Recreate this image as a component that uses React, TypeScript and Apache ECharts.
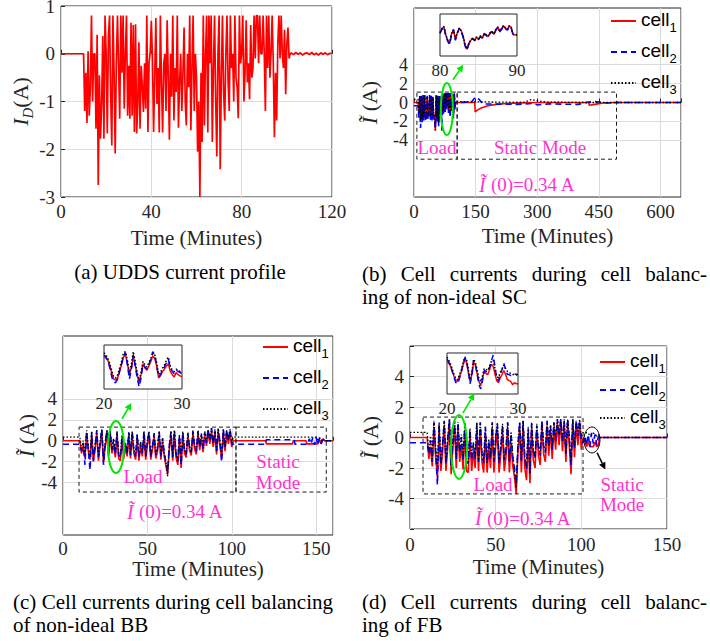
import React, { useEffect, useRef } from 'react';
import * as echarts from 'echarts';

const W = 710;
const H = 641;
const SERIF = '"Liberation Serif", "Times New Roman", serif';
const SANS = '"Liberation Sans", Arial, sans-serif';
const AX = '#262626';
const GRIDC = '#dcdcdc';
const PINK = '#ff33cc';
const GREEN = '#00e600';

// ---------- (a) UDDS current profile ----------
const uddsStart = 10;
const uddsStep = 0.5;
const uddsValues = [
  0, -1.2, -0.4, -1.45, 0.05, -1.3, -0.7, 0.8, -1.0, 0,
  0, -1.57, 0.4, -2.75, -0.45, -1.78, -1.08, 0.37, -1.78, 0.8,
  0, -1.67, 0.37, 0.8, -0.9, -1.92, 0.8, -0.4, -2.09, -0.2,
  0.8, -0.25, -1.36, 0.8, -0.4, 0.8, -1.15, 0, 0.8, -1.3,
  -0.25, -1.36, 0.65, -1.3, 0.6, -1.64, 0.62, -1.67, -1.08, 0.24,
  -1.57, -0.25, -0.67, -1.22, -0.2, -1.15, 0.8, -1.64, -0.18, 0.03,
  0.69, -0.1, -1.64, -0.5, 0.75, -1.05, -0.3, -1.65, 0.8, -0.6,
  -1.65, -0.2, 0.0, -1.2, 0.7, -0.5, -1.8, 0.0, -0.9, 0.8,
  -1.4, -0.3, -0.8, 0.8, -1.55, -0.6, 0.0, -1.2, -0.4, 0.55,
  -1.0, -1.5, 0.0, -0.7, 0.8, -1.6, -0.3, 0.8, -1.2, 0,
  -0.5, -2.05, -1.0, -3.0, -0.4, -1.85, 0.8, -1.5, 0.0, 0.8,
  -1.65, 0.8, -0.2, 0.8, -1.85, -0.3, 0.8, -1.0, -2.15, 0.0,
  0.8, -2.42, -0.5, 0.8, -0.8, -1.4, 0.0, 0.8, -0.6, -1.2,
  0.8, -0.3, 0.0, -1.0, 0.8, -0.5, -0.7, -1.35, 0.8, -0.2,
  0.0, 0.8, -1.0, -0.4, 0.7, -0.6, -0.2, -0.95, 0.6, -0.5,
  -0.3, 0.8, -0.1, 0.8, 0.8, -0.2, 0.8, 0.0, 0.0, 0.8,
  0.0, -1.2, 0.8, -0.3, 0.8, -0.5, 0.0, 0.8, -0.2, -1.75,
  -0.4, -1.4, 0.2, 0.8, -0.1, 0.8, 0.0, -0.3, 0.5, -0.85,
  0.2, 0.55, -0.1, 0,
];
const uddsTailStart = 102;
const uddsTailStep = 1;
const uddsTail = [0.02, -0.02, 0.03, -0.01, 0.02, -0.03, 0.01, 0.02, -0.02, 0.03, -0.02, 0.01, -0.03, 0.02, -0.01, 0.02, -0.02, 0.01, 0];

// initial cell current offsets (cell1, cell2, cell3)
const initialOffsets = [0, -0.34, 0.34];

// ---------- (b) non-ideal SC ----------
const scStart = 10;
const scStep = 2;
const scCell1 = [
  0, -1.3, 0.6, -2.0, 0.5, -1.8, 0.7, -1.6, 0.6, -1.4,
  -1.7, 0.5, -1.5, -1.2, 0.6, -1.6, 0.5, -1.7, 0.4, -1.5,
  -1.3, -3.0, 0.6, -1.8, 0.5, -2.2, 0.6, -1.2, 0.5, -1.0,
  0.7, -0.9, 0.8, -0.7, 0.9, -0.5, 0.8, -0.8, 0.9, -1.3,
  0.8, -0.6, 0.9, -1.4, 0.8, -0.5,
];
const scCell2 = [
  -0.34, -1.6, 0.8, -2.7, 0.7, -2.1, 0.9, -1.9, 0.8, -1.7,
  -2.0, 0.7, -1.8, -1.5, 0.8, -1.9, 0.7, -2.0, 0.6, -1.8,
  -1.6, -2.8, 0.8, -2.1, 0.7, -2.5, 0.8, -1.5, 0.7, -3.0,
  0.9, -1.2, 1.0, -1.0, 1.0, -0.8, 1.0, -1.1, 1.0, -1.6,
  1.0, -0.9, 1.0, -1.7, 1.0, -0.8,
];
const scCell3 = [
  0.34, -1.2, 0.7, -1.9, 0.6, -1.7, 0.8, -1.5, 0.7, -1.3,
  -1.6, 0.6, -1.4, -1.1, 0.7, -1.5, 0.6, -1.6, 0.5, -1.4,
  -1.2, -2.9, 0.7, -1.7, 0.6, -2.1, 0.7, -1.1, 0.6, -0.9,
  0.8, -0.8, 0.9, -0.6, 1.0, -0.4, 0.9, -0.7, 1.0, -1.2,
  0.9, -0.5, 1.0, -1.3, 0.9, -0.4,
];
const scTail1 = [[101, 0], [148, 0], [149, -1.0], [155, -0.78], [165, -0.55], [180, -0.35], [200, -0.2], [225, -0.1], [260, -0.04], [300, 0], [425, 0], [427, -0.3], [440, -0.2], [460, -0.06], [490, 0], [650, 0]];
const scTail2 = [[101, 0], [140, 0.05], [150, 0.6], [158, 0.35], [168, -0.15], [250, -0.2], [290, -0.1], [300, -0.25], [330, -0.15], [400, -0.2], [425, 0.05], [440, 0.1], [470, -0.05], [500, 0], [650, 0]];
const scTail3 = [[101, 0.1], [200, 0.05], [270, 0.05], [285, 0.3], [300, 0.2], [320, 0.05], [400, 0], [650, 0]];
// inset (80-90 min)
const scInsetStart = 80;
const insetStep = 0.25;
const scInset1 = [
  -0.3, 0.1, 0.3, -0.5, -1.0, -1.3, -0.4, 0.0, -0.9, -0.3,
  0.15, -0.1, -0.6, -1.45, -1.85, -1.3, -1.0, -0.8, -1.0, -0.7,
  -0.9, -0.6, -0.8, -0.35, -0.5, -0.65, -0.3, -0.15, -0.45, 0.0,
  0.25, -0.15, 0.1, 0.38, 0.15, 0.0, 0.38, 0.2, -0.45, -0.5,
  -0.48,
];
const scInset2 = [
  -0.35, 0.05, 0.3, -0.6, -1.1, -1.4, -0.45, 0.0, -1.0, -0.35,
  0.1, -0.15, -0.7, -1.55, -1.95, -1.35, -1.05, -0.85, -1.05, -0.75,
  -0.95, -0.65, -0.85, -0.4, -0.55, -0.7, -0.35, -0.2, -0.5, -0.05,
  0.2, -0.2, 0.05, 0.33, 0.1, -0.05, 0.33, 0.15, -0.5, -0.55,
  -0.5,
];
const scInset3 = [
  -0.28, 0.12, 0.32, -0.48, -0.98, -1.28, -0.38, 0.02, -0.88, -0.28,
  0.17, -0.08, -0.58, -1.43, -1.83, -1.28, -0.98, -0.78, -0.98, -0.68,
  -0.88, -0.58, -0.78, -0.33, -0.48, -0.63, -0.28, -0.13, -0.43, 0.02,
  0.27, -0.13, 0.12, 0.4, 0.17, 0.02, 0.4, 0.22, -0.43, -0.48,
  -0.46,
];

// ---------- (c) non-ideal BB ----------
const loadStart = 10;
const loadStep = 1;
const bbCell1 = [
  0, -1.2, -0.5, -1.6, 0.6, -1.0, -1.8, 0.5, -2.0, -0.8,
  0.7, -1.9, -0.4, 0.8, -2.1, -0.6, 0.7, -1.5, 0.6, -1.2,
  -0.3, -1.6, 0.5, -1.7, -1.9, 0.1, -1.7, -0.6, -1.5, 0.4,
  -1.7, 0.5, -1.2, -1.8, 0.2, -1.9, -0.5, -1.5, 0.5, -1.8,
  -0.4, 0.5, -1.8, -0.8, 0.3, -1.7, -1.0, 0.5, -1.8, -0.2,
  -1.5, -2.4, -3.2, -0.8, 0.5, -1.9, 0.6, -1.6, -2.3, 0.2,
  -2.6, 0.5, -1.2, -1.6, 0.4, -0.9, -1.4, 0.6, -0.8, -1.3,
  0.6, -0.9, 0.3, -1.1, 0.5, -0.5, 0.8, -0.3, 0.9, -0.6,
  0.7, -1.3, 0.8, -0.4, -1.7, 0.8, -1.0, 0.7, -0.3, 0.8,
  -0.6, 0,
];
const bbCell2 = [
  -0.34, -1.0, -0.2, -2.3, 0.9, -0.8, -2.8, 0.8, -1.9, -0.6,
  1.0, -1.6, -0.2, 1.1, -2.3, -0.3, 1.0, -1.2, 0.9, -0.9,
  0.1, -1.3, 0.8, -1.4, -1.6, 0.5, -1.4, -0.3, -1.2, 0.8,
  -1.4, 0.9, -0.9, -1.5, 0.6, -1.6, -0.2, -1.2, 0.9, -1.5,
  -0.1, 0.8, -1.5, -0.5, 0.7, -1.4, -0.7, 0.9, -1.5, 0.2,
  -1.2, -2.1, -2.9, -0.5, 0.9, -1.6, 1.0, -1.3, -2.0, 0.5,
  -2.3, 0.8, -0.9, -1.3, 0.7, -0.6, -1.1, 0.9, -0.5, -1.0,
  0.9, -0.6, 0.6, -0.8, 0.8, -0.2, 1.1, 0.0, 1.2, -0.3,
  1.0, -1.0, 1.1, -0.1, -2.0, 1.1, -0.7, 1.0, 0.0, 1.1,
  -0.3, -0.34,
];
const bbCell3 = [
  0.34, -0.9, 0.0, -1.3, 1.0, -0.6, -1.5, 0.9, -1.6, -0.4,
  1.0, -1.5, -0.1, 1.1, -1.7, -0.2, 1.0, -1.1, 0.9, -0.8,
  0.2, -1.2, 0.9, -1.3, -1.5, 0.5, -1.3, -0.2, -1.1, 0.8,
  -1.3, 0.9, -0.8, -1.4, 0.6, -1.5, -0.1, -1.1, 0.9, -1.4,
  0.0, 0.9, -1.4, -0.4, 0.7, -1.3, -0.6, 0.9, -1.4, 0.3,
  -1.1, -2.0, -3.4, -0.4, 0.9, -1.5, 1.0, -1.2, -1.9, 0.6,
  -2.2, 0.9, -0.8, -1.2, 0.8, -0.5, -1.0, 1.0, -0.4, -0.9,
  1.0, -0.5, 0.7, -0.7, 0.9, -0.1, 1.1, 0.1, 1.2, -0.2,
  1.1, -0.9, 1.2, 0.0, -1.5, 1.1, -0.6, 1.0, 0.1, 1.1,
  -0.2, 0.34,
];
const bbTail1 = [[101.5, 0], [120, 0], [120.5, -0.3], [136, -0.3], [136.5, 0], [144, 0], [144.5, -0.3], [151, -0.3], [152, 0.1], [153, -0.3], [154, 0.2], [155, 0], [160, 0]];
const bbTail2 = [[101.5, -0.34], [120, -0.34], [120.5, 0.1], [137, 0.1], [137.5, -0.34], [145, -0.34], [146, 0.2], [147, -0.3], [148, 0.3], [149, -0.4], [150, 0.3], [151, -0.4], [152, 0.3], [153, -0.3], [154, 0.2], [155, 0], [160, 0]];
const bbTail3 = [[101.5, 0.34], [150, 0.34], [151, 0.1], [152, 0.3], [153, 0.0], [154, 0.2], [155, 0], [160, 0]];
const bbInsetStart = 20;
const bbInset1 = [
  0.5, 0.3, 0.1, -0.4, -1.1, -1.6, -1.7, -1.5, -0.9, -0.3,
  0.4, 0.6, -0.2, -1.2, -0.6, 0.5, -0.3, -1.2, -1.9, -1.2,
  -0.2, -0.6, -0.8, -0.4, 0.0, 0.5, 0.3, -0.4, -1.5, -1.3,
  -0.9, -0.7, -0.4, -0.2, -0.9, -1.2, -1.4, -1.0, -1.2, -1.3,
  -1.4,
];
const bbInset2 = [
  0.6, 0.4, 0.1, -0.6, -1.4, -1.9, -1.9, -1.6, -0.9, -0.2,
  0.5, 0.8, -0.3, -1.6, -0.8, 0.6, -0.4, -1.5, -2.3, -1.5,
  -0.3, -0.5, -0.7, -0.3, 0.2, 0.9, 0.6, -0.3, -1.4, -1.2,
  -0.7, -0.5, -0.1, 0.2, -0.6, -0.9, -1.1, -0.8, -0.9, -1.0,
  -1.1,
];
const bbInset3 = [
  0.8, 0.6, 0.3, -0.2, -0.9, -1.4, -1.5, -1.2, -0.6, 0.0,
  0.8, 0.9, 0.1, -1.0, -0.3, 0.9, 0.0, -1.0, -1.7, -1.0,
  0.0, -0.3, -0.5, -0.1, 0.3, 0.7, 0.6, -0.1, -1.2, -1.0,
  -0.6, -0.3, 0.1, 0.4, -0.4, -0.8, -0.9, -0.7, -0.8, -0.9,
  -1.0,
];

// ---------- (d) FB ----------
const fbCell1 = [
  0, -1.4, -0.6, -1.9, 0.7, -1.3, -2.6, 0.5, -2.2, -1.0,
  0.8, -2.2, -0.6, 0.9, -2.4, -0.8, 0.8, -2.0, 0.6, -1.6,
  -0.5, -2.1, 0.5, -2.2, -2.3, 0.0, -2.2, -0.9, -2.0, 0.4,
  -2.2, 0.5, -1.6, -2.3, 0.2, -2.3, -0.7, -2.0, 0.6, -2.3,
  -0.6, 0.5, -2.3, -1.1, 0.3, -2.2, -1.3, 0.6, -2.3, -0.4,
  -1.9, -2.6, -3.7, -1.0, 0.6, -2.3, 0.7, -2.0, -2.8, 0.2,
  -3.0, 0.6, -1.5, -2.0, 0.5, -1.2, -1.8, 0.8, -1.1, -1.6,
  0.8, -1.2, 0.5, -1.4, 0.7, -0.8, 1.0, -0.5, 1.1, -0.9,
  0.9, -1.6, 1.0, -0.6, -2.4, 1.0, -1.3, 0.9, -0.5, 1.0,
  -0.8, 0,
];
const fbCell2 = [
  -0.34, -1.1, -0.2, -1.6, 1.0, -1.0, -3.1, 0.9, -1.8, -0.5,
  1.1, -1.7, -0.1, 1.2, -1.9, -0.3, 1.1, -1.4, 1.0, -1.0,
  0.0, -1.5, 0.9, -1.6, -1.7, 0.5, -1.5, -0.4, -1.4, 0.9,
  -1.6, 1.0, -1.1, -1.7, 0.7, -1.6, -0.2, -1.4, 1.0, -1.6,
  -0.1, 0.9, -1.7, -0.6, 0.8, -1.5, -0.8, 1.0, -1.6, 0.2,
  -1.3, -2.0, -3.0, -0.5, 1.0, -1.6, 1.1, -1.4, -2.1, 0.6,
  -2.3, 0.9, -0.9, -1.4, 0.8, -0.6, -1.2, 1.1, -0.6, -1.0,
  1.1, -0.6, 0.8, -0.8, 1.0, -0.2, 1.2, 0.1, 1.2, -0.3,
  1.1, -1.1, 1.2, 0.0, -1.8, 1.2, -0.7, 1.1, 0.1, 1.1,
  -0.3, -0.34,
];
const fbCell3 = [
  0.34, -0.9, 0.1, -1.4, 1.1, -0.7, -1.9, 1.0, -1.7, -0.3,
  1.1, -1.6, 0.0, 1.2, -1.8, -0.2, 1.1, -1.3, 1.0, -0.9,
  0.2, -1.4, 1.0, -1.5, -1.6, 0.6, -1.4, -0.3, -1.3, 1.0,
  -1.5, 1.0, -1.0, -1.6, 0.7, -1.7, -0.1, -1.3, 1.0, -1.5,
  0.0, 1.0, -1.6, -0.5, 0.9, -1.4, -0.7, 1.0, -1.5, 0.4,
  -1.2, -2.2, -3.3, -0.4, 1.0, -1.5, 1.1, -1.3, -2.0, 0.7,
  -2.4, 1.0, -0.8, -1.3, 0.9, -0.5, -1.1, 1.1, -0.5, -0.9,
  1.1, -0.5, 0.8, -0.7, 1.0, -0.1, 1.2, 0.2, 1.2, -0.2,
  1.2, -1.0, 1.2, 0.1, -1.6, 1.2, -0.6, 1.1, 0.2, 1.2,
  -0.1, 0.34,
];
const fbTail1 = [[102, -0.2], [103, -0.6], [104, -0.3], [105, -0.6], [107, -0.6], [108, -0.3], [109, -0.6], [110, -0.5], [110.5, 0], [150, 0]];
const fbTail2 = [[102, 0.1], [103, -0.5], [104, 0.2], [105, -0.6], [106, 0.3], [107, -0.4], [108, 0.2], [109, -0.5], [110, 0.1], [111, 0], [150, 0]];
const fbTail3 = [[101.5, 0.34], [104, 0.3], [105, 0.1], [107, 0.3], [109, 0.1], [110, 0.2], [111, 0], [150, 0]];
const fbInsetStart = 20;
const fbInset1 = [
  0.7, 0.5, 0.2, -0.3, -0.8, -1.2, -1.3, -0.8, -0.4, 0.3,
  0.8, 0.6, -0.4, -1.3, -0.6, 0.6, 0.3, -0.5, -1.3, -1.7,
  -1.0, -0.3, -0.5, -0.6, -0.1, 0.4, 0.2, -0.5, -1.2, -1.4,
  -0.9, -0.6, -0.2, -0.6, -1.1, -1.2, -1.3, -1.6, -1.4, -1.5,
  -1.5,
];
const fbInset2 = [
  0.9, 0.6, 0.3, -0.3, -0.9, -1.4, -1.5, -1.0, -0.4, 0.4,
  1.0, 0.8, -0.3, -1.5, -0.7, 0.8, 0.4, -0.6, -1.6, -2.0,
  -1.2, -0.2, -0.3, -0.4, 0.1, 0.7, 1.3, 0.2, -1.0, -1.2,
  -0.6, -0.1, 0.5, -0.1, -0.6, -0.6, -0.7, -0.6, -0.5, -0.6,
  -0.6,
];
const fbInset3 = [
  1.1, 0.8, 0.4, -0.1, -0.6, -1.0, -1.1, -0.6, -0.2, 0.5,
  1.1, 0.9, -0.1, -1.1, -0.4, 0.9, 0.6, -0.2, -1.0, -1.3,
  -0.7, 0.0, -0.1, -0.2, 0.2, 0.7, 0.8, 0.0, -0.8, -0.9,
  -0.4, -0.1, 0.3, 0.0, -0.3, -0.4, -0.5, -0.6, -0.6, -0.6,
  -0.7,
];

// labelled y range (grid lines drawn only there) in panels (b) and (c)
const labelledYMin = -4;
const labelledYMax = 4;
const labelledYStep = 2;
const cellNames = ['cell1', 'cell2', 'cell3'];

// ---------- helpers ----------
const sampled = (start: number, step: number, vals: number[]) => vals.map((v, i) => [start + i * step, v]);
const cellData = (k: number, start: number, step: number, vals: number[], tail: number[][]) => [
  [0, initialOffsets[k]],
  ...sampled(start, step, vals),
  ...tail,
];

const lineStyles = [
  { color: '#ff0000', width: 1.6, type: 'solid' as any },
  { color: '#0000ff', width: 1.6, type: [6, 4] as any },
  { color: '#000000', width: 1.3, type: [1.5, 2] as any },
];

const gridBoxes = [
  { left: 61, top: 6, width: 271, height: 191 },
  { left: 414, top: 8, width: 267, height: 189 },
  { left: 63, top: 336, width: 270, height: 199 },
  { left: 410, top: 346, width: 257, height: 183 },
  { left: 440, top: 14, width: 77, height: 42 },
  { left: 104, top: 345, width: 78, height: 44 },
  { left: 447, top: 353, width: 71, height: 41 },
];
const yRanges = [[-3, 1], [-10, 10], [-9, 10], [-6, 6]];

// a helper grid covering only the labelled y range of a panel, to carry its grid lines
function subGrid(panel: number) {
  const b = gridBoxes[panel];
  const [lo, hi] = yRanges[panel];
  const pxPerUnit = b.height / (hi - lo);
  return {
    left: b.left, width: b.width,
    top: b.top + (hi - labelledYMax) * pxPerUnit,
    height: (labelledYMax - labelledYMin) * pxPerUnit,
    show: false, containLabel: false, outerBoundsMode: 'none',
  };
}

function mainX(g: number, min: number, max: number, interval: number, margin: number, nameGap: number) {
  return {
    type: 'value', gridIndex: g, min, max, interval,
    axisLine: { show: false },
    axisTick: { show: true, inside: true, length: 4, lineStyle: { color: AX } },
    axisLabel: {
      color: AX, fontFamily: SERIF, fontSize: 19, margin,
      formatter: (v: number) => (Math.abs(v / interval - Math.round(v / interval)) < 1e-6 ? String(v) : ''),
    },
    splitLine: { show: true, lineStyle: { color: GRIDC, width: 1 } },
    name: 'Time (Minutes)', nameLocation: 'middle', nameGap,
    nameTextStyle: { color: AX, fontFamily: SERIF, fontSize: 21 },
  };
}

function yName(kind: 'a' | 'b') {
  if (kind === 'a') {
    return {
      name: '{i|I}{s|D}{r|(A)}',
      nameTextStyle: {
        rich: {
          i: { fontFamily: SERIF, fontStyle: 'italic', fontSize: 22, color: AX, lineHeight: 24, verticalAlign: 'top' },
          s: { fontFamily: SERIF, fontStyle: 'italic', fontSize: 15, color: AX, lineHeight: 16, verticalAlign: 'top', padding: [11, 0, 0, 0] },
          r: { fontFamily: SERIF, fontSize: 22, color: AX, lineHeight: 24, verticalAlign: 'top' },
        },
      },
    };
  }
  return {
    name: '{i|Ĩ}{r| (A)}',
    nameTextStyle: {
      rich: {
        i: { fontFamily: SERIF, fontStyle: 'italic', fontSize: 22, color: AX },
        r: { fontFamily: SERIF, fontSize: 22, color: AX },
      },
    },
  };
}

function mainY(g: number, min: number, max: number, interval: number, nameGap: number, kind: 'a' | 'b', ownSplit: boolean, fontSize = 19) {
  return {
    type: 'value', gridIndex: g, min, max, interval,
    axisLine: { show: false },
    axisTick: { show: kind === 'a' || ownSplit, inside: true, length: 4, lineStyle: { color: AX } },
    axisLabel: {
      color: AX, fontFamily: SERIF, fontSize, margin: 6, lineHeight: fontSize - 1,
      formatter: (v: number) => {
        if (kind === 'a') return String(v);
        return Math.abs(v) <= labelledYMax && Math.abs(v % labelledYStep) < 1e-6 ? String(v) : '';
      },
    },
    splitLine: { show: ownSplit, lineStyle: { color: GRIDC, width: 1 } },
    nameLocation: 'middle', nameGap, nameRotate: 90,
    ...yName(kind),
  };
}

function insetX(g: number, min: number, max: number) {
  return {
    type: 'value', gridIndex: g, min, max, interval: max - min,
    axisLine: { show: false }, axisTick: { show: false }, splitLine: { show: false },
    axisLabel: { color: AX, fontFamily: SERIF, fontSize: 17, margin: 6 },
  };
}
function insetY(g: number) {
  return {
    type: 'value', gridIndex: g, min: -2.5, max: 1.5,
    axisLine: { show: false }, axisTick: { show: false }, splitLine: { show: false },
    axisLabel: { show: false },
  };
}
function hiddenX(g: number) {
  return {
    type: 'value', gridIndex: g, min: 0, max: 1,
    axisLine: { show: false }, axisTick: { show: false }, splitLine: { show: false }, axisLabel: { show: false },
  };
}
function gridLinesY(g: number) {
  return {
    type: 'value', gridIndex: g, min: labelledYMin, max: labelledYMax, interval: labelledYStep,
    axisLine: { show: false }, axisTick: { show: false }, axisLabel: { show: false },
    splitLine: { show: true, lineStyle: { color: GRIDC, width: 1 } },
  };
}

function lineSeries(axis: number, name: string | undefined, data: number[][], style: any, width?: number) {
  return {
    type: 'line', name, xAxisIndex: axis, yAxisIndex: axis, data,
    symbol: 'none', showSymbol: false, silent: true,
    lineStyle: { ...style, width: width ?? style.width },
    itemStyle: { color: style.color },
    emphasis: { disabled: true },
    z: 2,
  };
}

const legendRich = {
  a: { fontFamily: SANS, fontSize: 19, color: '#000', lineHeight: 22, verticalAlign: 'top' },
  b: { fontFamily: SANS, fontSize: 13, color: '#000', lineHeight: 15, verticalAlign: 'top', padding: [11, 0, 0, 0] },
};
function legendAt(left: number, top: number, gap: number) {
  return {
    orient: 'vertical', left, top, itemGap: gap, itemWidth: 25, itemHeight: 12, padding: 0,
    data: cellNames, selectedMode: false,
    itemStyle: { color: 'rgba(0,0,0,0)', borderWidth: 0, opacity: 0 },
    formatter: (n: string) => `{a|cell}{b|${n.slice(4)}}`,
    textStyle: { rich: legendRich },
  };
}

function buildOption() {
  const uddsData = [
    [0, 0],
    ...sampled(uddsStart, uddsStep, uddsValues),
    ...sampled(uddsTailStart, uddsTailStep, uddsTail),
  ];
  const sc = [scCell1, scCell2, scCell3];
  const scT = [scTail1, scTail2, scTail3];
  const scI = [scInset1, scInset2, scInset3];
  const bb = [bbCell1, bbCell2, bbCell3];
  const bbT = [bbTail1, bbTail2, bbTail3];
  const bbI = [bbInset1, bbInset2, bbInset3];
  const fb = [fbCell1, fbCell2, fbCell3];
  const fbT = [fbTail1, fbTail2, fbTail3];
  const fbI = [fbInset1, fbInset2, fbInset3];

  const series: any[] = [
    lineSeries(0, undefined, uddsData, { color: '#ff0000', width: 1.7, type: 'solid' }),
  ];
  for (let k = 0; k < 3; k++) {
    series.push(lineSeries(1, cellNames[k], cellData(k, scStart, scStep, sc[k], scT[k]), lineStyles[k]));
  }
  for (let k = 0; k < 3; k++) {
    series.push(lineSeries(2, cellNames[k], cellData(k, loadStart, loadStep, bb[k], bbT[k]), lineStyles[k]));
  }
  for (let k = 0; k < 3; k++) {
    series.push(lineSeries(3, cellNames[k], cellData(k, loadStart, loadStep, fb[k], fbT[k]), lineStyles[k]));
  }
  for (let k = 0; k < 3; k++) {
    series.push(lineSeries(4, cellNames[k], sampled(scInsetStart, insetStep, scI[k]), lineStyles[k], 1.5));
    series.push(lineSeries(5, cellNames[k], sampled(bbInsetStart, insetStep, bbI[k]), lineStyles[k], 1.5));
    series.push(lineSeries(6, cellNames[k], sampled(fbInsetStart, insetStep, fbI[k]), lineStyles[k], 1.5));
  }

  return {
    animation: false,
    backgroundColor: '#fff',
    grid: [
      ...gridBoxes.map((b, i) => ({
        ...b, show: true, borderColor: AX, borderWidth: 1, containLabel: false, outerBoundsMode: 'none',
        backgroundColor: i >= 4 ? '#fff' : 'transparent', z: i >= 4 ? 1 : 0,
      })),
      subGrid(1),
      subGrid(2),
    ],
    xAxis: [
      mainX(0, 0, 120, 40, 5, 30),
      mainX(1, 0, 650, 150, 5, 28),
      mainX(2, 0, 160, 50, 4, 22),
      mainX(3, 0, 150, 50, 6, 27),
      insetX(4, 80, 90),
      insetX(5, 20, 30),
      insetX(6, 20, 30),
      hiddenX(7),
      hiddenX(8),
    ],
    yAxis: [
      mainY(0, yRanges[0][0], yRanges[0][1], 1, 27, 'a', true),
      mainY(1, yRanges[1][0], yRanges[1][1], 2, 34, 'b', false, 18),
      mainY(2, yRanges[2][0], yRanges[2][1], 1, 22, 'b', false),
      mainY(3, yRanges[3][0], yRanges[3][1], 2, 29, 'b', true),
      insetY(4),
      insetY(5),
      insetY(6),
      gridLinesY(7),
      gridLinesY(8),
    ],
    legend: [legendAt(610, 10, 7), legendAt(262, 336, 7), legendAt(599, 351, 4)],
    series,
  };
}

// annotations in data coordinates of each panel
const boxesData = [
  { g: 1, x0: 7, x1: 105, y0: -6.0, y1: 1.1 },
  { g: 1, x0: 105, x1: 493, y0: -6.0, y1: 1.1 },
  { g: 2, x0: 9.5, x1: 102.5, y0: -4.9, y1: 1.3 },
  { g: 2, x0: 102.5, x1: 156, y0: -4.9, y1: 1.3 },
  { g: 3, x0: 7.6, x1: 101, y0: -3.7, y1: 1.34 },
];
const ellipsesData = [
  { g: 1, x: 80, y: -0.7, rx: 6, ry: 26, color: GREEN },
  { g: 2, x: 31.4, y: -0.6, rx: 8, ry: 26, color: GREEN },
  { g: 3, x: 28.6, y: -0.62, rx: 8, ry: 32, color: GREEN },
  { g: 3, x: 106.2, y: -0.16, rx: 8, ry: 13, color: '#000' },
];
const arrowsData = [
  { g: 1, from: [95, 2.4], to: [120, 4.0], color: GREEN },
  { g: 2, from: [35, 2.1], to: [40.5, 3.6], color: GREEN },
  { g: 3, from: [30.9, 1.6], to: [37.6, 2.9], color: GREEN },
  { g: 3, from: [109.2, -1.0], to: [114, -2.1], color: '#000' },
];
const labelsData = [
  { g: 1, x: 56, y: -4.8, text: 'Load' },
  { g: 1, x: 307, y: -4.8, text: 'Static Mode' },
  { g: 2, x: 47.4, y: -3.4, text: 'Load' },
  { g: 2, x: 127.4, y: -2.0, text: 'Static' },
  { g: 2, x: 127.4, y: -4.0, text: 'Mode' },
  { g: 3, x: 48.5, y: -3.1, text: 'Load' },
  { g: 3, x: 123.8, y: -3.1, text: 'Static' },
  { g: 3, x: 123.8, y: -4.4, text: 'Mode' },
];
const initLabelData = [
  { g: 1, x: 275, y: -8.7 },
  { g: 2, x: 66.4, y: -6.8 },
  { g: 3, x: 66, y: -5.3 },
];

function buildGraphic(chart: any) {
  const P = (g: number, x: number, y: number) => chart.convertToPixel({ gridIndex: g }, [x, y]) as number[];
  const els: any[] = [];
  boxesData.forEach((b) => {
    const p0 = P(b.g, b.x0, b.y1);
    const p1 = P(b.g, b.x1, b.y0);
    els.push({
      type: 'rect', z: 100, silent: true,
      shape: { x: p0[0], y: p0[1], width: p1[0] - p0[0], height: p1[1] - p0[1] },
      style: { fill: 'none', stroke: '#1a1a1a', lineWidth: 1, lineDash: [4, 3] },
    });
  });
  ellipsesData.forEach((e) => {
    const c = P(e.g, e.x, e.y);
    els.push({
      type: 'ellipse', z: 100, silent: true,
      shape: { cx: c[0], cy: c[1], rx: e.rx, ry: e.ry },
      style: { fill: 'none', stroke: e.color, lineWidth: e.color === GREEN ? 2 : 1 },
    });
  });
  arrowsData.forEach((a) => {
    const p0 = P(a.g, a.from[0], a.from[1]);
    const p1 = P(a.g, a.to[0], a.to[1]);
    const dx = p1[0] - p0[0];
    const dy = p1[1] - p0[1];
    const L = Math.hypot(dx, dy) || 1;
    const ux = dx / L;
    const uy = dy / L;
    const head = 7;
    const bx = p1[0] - ux * head;
    const by = p1[1] - uy * head;
    const nx = -uy;
    const ny = ux;
    els.push({
      type: 'line', z: 100, silent: true,
      shape: { x1: p0[0], y1: p0[1], x2: bx, y2: by },
      style: { stroke: a.color, lineWidth: 1.6 },
    });
    els.push({
      type: 'polygon', z: 100, silent: true,
      shape: { points: [[p1[0], p1[1]], [bx + nx * 3.5, by + ny * 3.5], [bx - nx * 3.5, by - ny * 3.5]] },
      style: { fill: a.color },
    });
  });
  labelsData.forEach((l) => {
    const c = P(l.g, l.x, l.y);
    els.push({
      type: 'text', z: 100, silent: true, x: c[0], y: c[1],
      style: { text: l.text, fill: PINK, font: `19px ${SERIF}`, textAlign: 'center', textVerticalAlign: 'middle' },
    });
  });
  initLabelData.forEach((l) => {
    const c = P(l.g, l.x, l.y);
    els.push({
      type: 'text', z: 100, silent: true, x: c[0], y: c[1],
      style: {
        text: '{i|Ĩ}{r| (0)=0.34 A}',
        fill: PINK, fontSize: 19, fontFamily: SERIF,
        textAlign: 'center', textVerticalAlign: 'middle',
        rich: {
          i: { fontFamily: SERIF, fontSize: 20, fontStyle: 'italic', fill: PINK, color: PINK },
          r: { fontFamily: SERIF, fontSize: 19, fill: PINK, color: PINK },
        },
      },
    });
  });

  // captions
  const ctx = document.createElement('canvas').getContext('2d')!;
  const capSize = 21;
  ctx.font = `${capSize}px "Liberation Serif"`;
  const plain = (text: string, x: number, y: number, align: string) => ({
    type: 'text', z: 100, silent: true, x, y,
    style: { text, fill: '#000', font: `${capSize}px ${SERIF}`, textAlign: align, textVerticalAlign: 'middle' },
  });
  const justified = (text: string, left: number, right: number, y: number) => {
    const words = text.split(' ');
    const widths = words.map((w) => ctx.measureText(w).width);
    const total = widths.reduce((s, v) => s + v, 0);
    const gap = (right - left - total) / (words.length - 1);
    let x = left;
    words.forEach((w, i) => {
      els.push(plain(w, x, y, 'left'));
      x += widths[i] + gap;
    });
  };
  els.push(plain('(a) UDDS current profile', 180, 272, 'center'));
  justified('(b) Cell currents during cell balanc-', 362, 707, 274);
  els.push(plain('ing of non-ideal SC', 362, 297, 'left'));
  justified('(c) Cell currents during cell balancing', 13, 333, 602);
  els.push(plain('of non-ideal BB', 13, 625, 'left'));
  justified('(d) Cell currents during cell balanc-', 362, 707, 602);
  els.push(plain('ing of FB', 362, 625, 'left'));
  return els;
}

export default function App() {
  const ref = useRef<HTMLDivElement>(null);
  useEffect(() => {
    if (!ref.current) return;
    const chart = echarts.init(ref.current, null, { renderer: 'svg' });
    chart.setOption(buildOption() as any);
    chart.setOption({ graphic: buildGraphic(chart) } as any);
    return () => chart.dispose();
  }, []);
  return <div ref={ref} style={{ position: 'absolute', left: 0, top: 0, width: W, height: H, background: '#fff' }} />;
}
